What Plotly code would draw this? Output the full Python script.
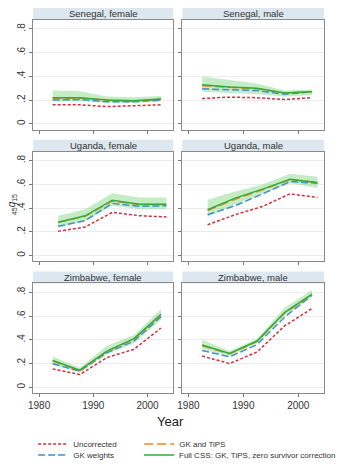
import plotly.graph_objects as go

W, H = 341, 470

# ---------------- data ----------------
years_sen = [1982.5, 1987.5, 1992.5, 1997.5, 2002.5]
years_uga = [1983.5, 1988.5, 1993.5, 1998.5, 2003.5]
years_zim = [1982.5, 1987.5, 1992.5, 1997.5, 2002.5]

panel_titles = ["Senegal, female", "Senegal, male", "Uganda, female",
                "Uganda, male", "Zimbabwe, female", "Zimbabwe, male"]

series_names = ["Uncorrected", "GK and TiPS", "GK weights",
                "Full CSS: GK, TiPS, zero survivor correction"]

sen_f_unc = [0.16, 0.16, 0.145, 0.15, 0.16]
sen_f_gkw = [0.20, 0.205, 0.185, 0.185, 0.20]
sen_f_gkt = [0.215, 0.215, 0.20, 0.19, 0.21]
sen_f_full = [0.22, 0.22, 0.20, 0.195, 0.21]
sen_f_lo = [0.19, 0.19, 0.18, 0.175, 0.19]
sen_f_hi = [0.28, 0.275, 0.23, 0.225, 0.235]

sen_m_unc = [0.213, 0.225, 0.22, 0.205, 0.22]
sen_m_gkw = [0.295, 0.29, 0.28, 0.25, 0.27]
sen_m_gkt = [0.32, 0.305, 0.295, 0.26, 0.27]
sen_m_full = [0.33, 0.31, 0.30, 0.26, 0.27]
sen_m_lo = [0.27, 0.26, 0.25, 0.23, 0.24]
sen_m_hi = [0.40, 0.37, 0.34, 0.28, 0.29]

uga_f_unc = [0.204, 0.24, 0.364, 0.336, 0.325]
uga_f_gkw = [0.246, 0.295, 0.44, 0.415, 0.42]
uga_f_gkt = [0.28, 0.33, 0.46, 0.43, 0.43]
uga_f_full = [0.28, 0.335, 0.467, 0.433, 0.433]
uga_f_lo = [0.235, 0.29, 0.42, 0.39, 0.39]
uga_f_hi = [0.335, 0.39, 0.525, 0.49, 0.49]

uga_m_unc = [0.26, 0.344, 0.414, 0.52, 0.49]
uga_m_gkw = [0.344, 0.42, 0.52, 0.624, 0.61]
uga_m_gkt = [0.38, 0.475, 0.555, 0.64, 0.615]
uga_m_full = [0.386, 0.484, 0.56, 0.643, 0.615]
uga_m_lo = [0.33, 0.43, 0.52, 0.61, 0.57]
uga_m_hi = [0.47, 0.54, 0.60, 0.69, 0.665]

zim_f_unc = [0.155, 0.107, 0.25, 0.32, 0.50]
zim_f_gkw = [0.198, 0.136, 0.29, 0.39, 0.596]
zim_f_gkt = [0.22, 0.14, 0.30, 0.405, 0.61]
zim_f_full = [0.226, 0.144, 0.305, 0.41, 0.616]
zim_f_lo = [0.19, 0.125, 0.28, 0.37, 0.57]
zim_f_hi = [0.26, 0.165, 0.35, 0.44, 0.66]

zim_m_unc = [0.263, 0.20, 0.297, 0.517, 0.664]
zim_m_gkw = [0.31, 0.257, 0.36, 0.59, 0.777]
zim_m_gkt = [0.35, 0.28, 0.385, 0.625, 0.78]
zim_m_full = [0.356, 0.285, 0.39, 0.63, 0.786]
zim_m_lo = [0.32, 0.265, 0.37, 0.60, 0.76]
zim_m_hi = [0.40, 0.305, 0.41, 0.67, 0.82]

y_tickvals = [0, 0.2, 0.4, 0.6, 0.8]
y_ticktext = ["0", ".2", ".4", ".6", ".8"]
x_tickvals = [1980, 1990, 2000]
x_ticktext = ["1980", "1990", "2000"]

panels = [
    (years_sen, sen_f_unc, sen_f_gkt, sen_f_gkw, sen_f_full, sen_f_lo, sen_f_hi),
    (years_sen, sen_m_unc, sen_m_gkt, sen_m_gkw, sen_m_full, sen_m_lo, sen_m_hi),
    (years_uga, uga_f_unc, uga_f_gkt, uga_f_gkw, uga_f_full, uga_f_lo, uga_f_hi),
    (years_uga, uga_m_unc, uga_m_gkt, uga_m_gkw, uga_m_full, uga_m_lo, uga_m_hi),
    (years_zim, zim_f_unc, zim_f_gkt, zim_f_gkw, zim_f_full, zim_f_lo, zim_f_hi),
    (years_zim, zim_m_unc, zim_m_gkt, zim_m_gkw, zim_m_full, zim_m_lo, zim_m_hi),
]

# ---------------- styles ----------------
RED = "#d2303a"
ORANGE = "#ec8a1e"
BLUE = "#3d8fd1"
GREEN = "#34a93a"
BAND = "rgba(150,222,150,0.55)"
FONT = "Liberation Sans, Arial, sans-serif"

col_x = [(30, 179), (189, 340)]
row_y = [(20, 130), (152, 262), (284, 394)]
TITLE_H = 12

fig = go.Figure()

def px_x(v):
    return v / W

def px_y(v):
    return 1 - v / H

layout_axes = {}
shapes = []
annotations = []

for i, (yrs, unc, gkt, gkw, full, lo, hi) in enumerate(panels):
    r, c = divmod(i, 2)
    n = i + 1
    xa = "x" if n == 1 else f"x{n}"
    ya = "y" if n == 1 else f"y{n}"
    show = (i == 0)
    fig.add_trace(go.Scatter(x=yrs, y=hi, mode="lines", line=dict(width=0),
                             showlegend=False, hoverinfo="skip", xaxis=xa, yaxis=ya))
    fig.add_trace(go.Scatter(x=yrs, y=lo, mode="lines", line=dict(width=0),
                             fill="tonexty", fillcolor=BAND,
                             showlegend=False, hoverinfo="skip", xaxis=xa, yaxis=ya))
    fig.add_trace(go.Scatter(x=yrs, y=unc, mode="lines", name=series_names[0],
                             line=dict(color=RED, width=1.5, dash="3px,2px"),
                             showlegend=show, legend="legend",
                             xaxis=xa, yaxis=ya))
    fig.add_trace(go.Scatter(x=yrs, y=gkw, mode="lines", name=series_names[2],
                             line=dict(color=BLUE, width=1.5, dash="7px,3px"),
                             showlegend=show, legend="legend2",
                             xaxis=xa, yaxis=ya))
    fig.add_trace(go.Scatter(x=yrs, y=gkt, mode="lines", name=series_names[1],
                             line=dict(color=ORANGE, width=1.5, dash="9px,4px"),
                             showlegend=show, legend="legend3",
                             xaxis=xa, yaxis=ya))
    fig.add_trace(go.Scatter(x=yrs, y=full, mode="lines", name=series_names[3],
                             line=dict(color=GREEN, width=1.5),
                             showlegend=show, legend="legend4",
                             xaxis=xa, yaxis=ya))

    x0, x1 = col_x[c]
    y0, y1 = row_y[r]
    kx = "xaxis" if n == 1 else f"xaxis{n}"
    ky = "yaxis" if n == 1 else f"yaxis{n}"
    layout_axes[kx] = dict(
        domain=[px_x(x0), px_x(x1)], range=[1978.9, 2004.7], anchor=ya,
        tickvals=x_tickvals, ticktext=x_ticktext, showticklabels=(r == 2),
        ticks="outside", ticklen=3, tickcolor="#777", showgrid=False,
        showline=True, mirror=True, linecolor="#8a8a8a", linewidth=1,
        zeroline=False, tickfont=dict(size=10, color="#333", family=FONT),
    )
    layout_axes[ky] = dict(
        domain=[px_y(y1), px_y(y0)], range=[-0.05, 0.876], anchor=xa,
        tickvals=y_tickvals, ticktext=y_ticktext, showticklabels=(c == 0),
        tickangle=-90, ticks="outside", ticklen=3, tickcolor="#777",
        showgrid=True, gridcolor="#ececec", gridwidth=1,
        showline=True, mirror=True, linecolor="#8a8a8a", linewidth=1,
        zeroline=False, tickfont=dict(size=10, color="#333", family=FONT),
    )
    shapes.append(dict(type="rect", xref="paper", yref="paper",
                       x0=px_x(x0), x1=px_x(x1), y0=px_y(y0), y1=px_y(y0 - TITLE_H),
                       fillcolor="#dde7ef", line=dict(width=0), layer="below"))
    annotations.append(dict(text=panel_titles[i], xref="paper", yref="paper",
                            x=px_x((x0 + x1) / 2), y=px_y(y0 - TITLE_H / 2),
                            showarrow=False, xanchor="center", yanchor="middle",
                            font=dict(size=9.5, color="#333", family=FONT)))

annotations.append(dict(text="<sub>45</sub><i>q</i><sub>15</sub>", xref="paper", yref="paper",
                        x=px_x(7), y=px_y(205), textangle=-90, showarrow=False,
                        xanchor="center", yanchor="middle",
                        font=dict(size=10, color="#333", family=FONT)))
annotations.append(dict(text="Year", xref="paper", yref="paper",
                        x=px_x(176), y=px_y(422), showarrow=False,
                        xanchor="center", yanchor="middle",
                        font=dict(size=13, color="#222", family=FONT)))

leg_common = dict(orientation="h", xanchor="left", yanchor="middle",
                  itemwidth=30, font=dict(size=8, color="#333", family=FONT),
                  bgcolor="rgba(0,0,0,0)", borderwidth=0)

fig.update_layout(
    width=W, height=H, margin=dict(l=0, r=0, t=0, b=0),
    paper_bgcolor="white", plot_bgcolor="white",
    shapes=shapes, annotations=annotations,
    legend=dict(x=px_x(30), y=px_y(445), **leg_common),
    legend3=dict(x=px_x(143), y=px_y(445), **leg_common),
    legend2=dict(x=px_x(30), y=px_y(456), **leg_common),
    legend4=dict(x=px_x(143), y=px_y(456), **leg_common),
    **layout_axes,
)

fig.write_html("out.html")
